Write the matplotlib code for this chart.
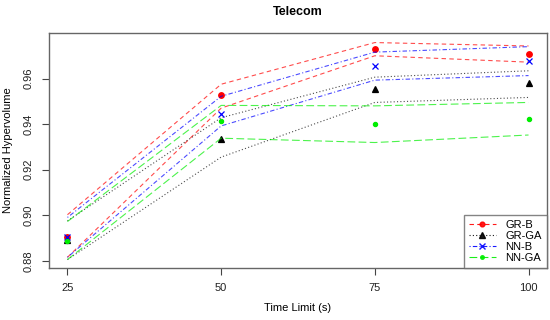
import matplotlib
matplotlib.use("Agg")
import matplotlib.pyplot as plt
from matplotlib.lines import Line2D

plt.rcParams['font.family'] = ['Liberation Sans', 'DejaVu Sans']

time_limits = [25, 50, 75, 100]
series_names = ["GR-B", "GR-GA", "NN-B", "NN-GA"]

gr_b_mean = [0.8903, 0.9527, 0.9729, 0.9707]
gr_b_upper = [0.9002, 0.9575, 0.9758, 0.9743]
gr_b_lower = [0.8815, 0.9470, 0.9700, 0.9672]

gr_ga_mean = [0.8893, 0.9334, 0.9553, 0.9580]
gr_ga_upper = [0.8975, 0.9428, 0.9606, 0.9634]
gr_ga_lower = [0.8805, 0.9255, 0.9495, 0.9517]

nn_b_mean = [0.8905, 0.9444, 0.9653, 0.9678]
nn_b_upper = [0.8990, 0.9522, 0.9716, 0.9740]
nn_b_lower = [0.8815, 0.9392, 0.9593, 0.9613]

nn_ga_mean = [0.8887, 0.9413, 0.9400, 0.9424]
nn_ga_upper = [0.8972, 0.9482, 0.9480, 0.9495]
nn_ga_lower = [0.8805, 0.9338, 0.9319, 0.9352]

means = [gr_b_mean, gr_ga_mean, nn_b_mean, nn_ga_mean]
uppers = [gr_b_upper, gr_ga_upper, nn_b_upper, nn_ga_upper]
lowers = [gr_b_lower, gr_ga_lower, nn_b_lower, nn_ga_lower]

colors = ["#FF0000", "#000000", "#0000FF", "#00EE00"]
linestyles = [(0, (4, 3)), (0, (1, 2)), (0, (1, 2, 4, 2)), (0, (7, 3))]
markers = ["o", "^", "x", "o"]
msizes = [4, 4.5, 4.5, 3]

fig = plt.figure(figsize=(5.5, 3.2), dpi=100)
ax = fig.add_axes([0.0891, 0.1625, 0.9054, 0.7344])

for m, u, l, c, ls, mk, ms in zip(means, uppers, lowers, colors, linestyles, markers, msizes):
    ax.plot(time_limits, u, color=c, linestyle=ls, linewidth=0.8, alpha=0.7)
    ax.plot(time_limits, l, color=c, linestyle=ls, linewidth=0.8, alpha=0.7)
    ax.plot(time_limits, m, linestyle='none', marker=mk, color=c, markersize=ms,
            markeredgewidth=0.9)

ax.set_xlim(22, 103)
ax.set_ylim(0.8768, 0.980)
ax.set_xticks(time_limits)
ax.set_yticks([0.88, 0.90, 0.92, 0.94, 0.96])
ax.set_yticklabels(["0.88", "0.90", "0.92", "0.94", "0.96"], rotation=90, va='center')
ax.tick_params(direction='out', length=5, width=0.8, colors='#444444', labelsize=8,
               labelcolor='#222222', pad=6)
for s in ax.spines.values():
    s.set_color('#666666')
    s.set_linewidth(1.0)

ax.set_title("Telecom", fontsize=9, fontweight='bold', pad=13)
ax.set_xlabel("Time Limit (s)", fontsize=8, labelpad=7)
ax.set_ylabel("Normalized Hypervolume", fontsize=8, labelpad=8)

handles = [Line2D([0], [0], color=c, linestyle=ls, linewidth=0.8, marker=mk,
                  markersize=ms * 0.85, alpha=0.9)
           for c, ls, mk, ms in zip(colors, linestyles, markers, msizes)]
leg = ax.legend(handles, series_names, loc='lower right', fontsize=8, frameon=True,
                fancybox=False, borderaxespad=0, handlelength=2.4, labelspacing=0.1,
                borderpad=0.45, handletextpad=0.9)
leg.get_frame().set_edgecolor('#666666')
leg.get_frame().set_linewidth(1.0)

fig.savefig("out.png", dpi=100)
